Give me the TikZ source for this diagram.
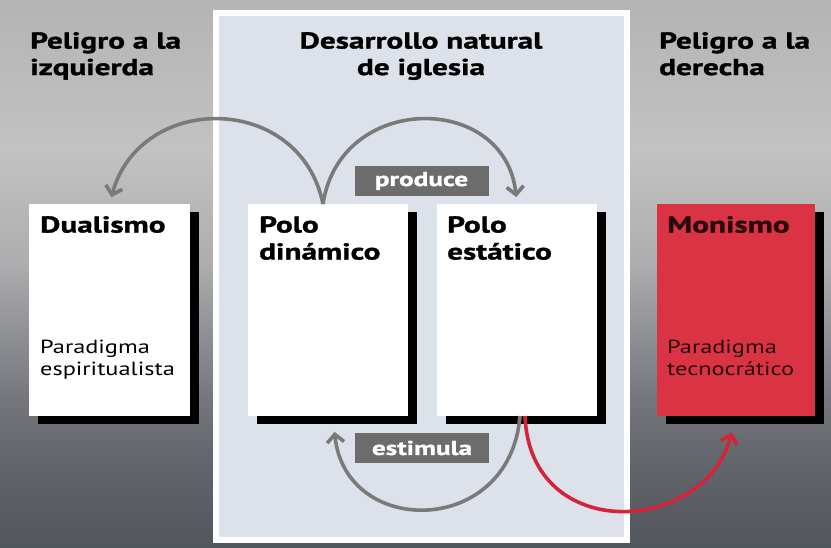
\documentclass[tikz,border=0pt]{standalone}
\usepackage{fontspec}
\setmainfont{PT Sans}[FakeStretch=1.28,BoldFeatures={FakeStretch=1.36,FakeBold=1.3}]
\usepackage{xcolor}
\usepackage{tikz}
\usetikzlibrary{arrows.meta, positioning, shadows}

\definecolor{panelbg}{RGB}{221,226,234}
\definecolor{arrgray}{RGB}{122,122,122}
\definecolor{labgray}{RGB}{108,108,108}
\definecolor{monred}{RGB}{218,52,68}
\definecolor{arrred}{RGB}{212,36,58}
\definecolor{montext}{RGB}{40,10,12}
\definecolor{bga}{RGB}{180,180,180}
\definecolor{bgb}{RGB}{194,194,194}
\definecolor{bgc}{RGB}{174,174,176}
\definecolor{bgd}{RGB}{116,118,124}
\definecolor{bge}{RGB}{98,101,107}
\definecolor{bgf}{RGB}{82,86,93}
\pgfdeclareverticalshading{bgshade}{100bp}{color(0bp)=(bgf);
  color(25bp)=(bgf);
  color(33bp)=(bge);
  color(38.5bp)=(bgd);
  color(51.3bp)=(bgc);
  color(61.3bp)=(bgb);
  color(75bp)=(bga);
  color(100bp)=(bga)}

\begin{document}
\begin{tikzpicture}[x=1pt,y=-1pt]
\tikzset{
  bx/.style={rectangle,fill=white,minimum width=161pt,minimum height=212pt,inner sep=0pt,outer sep=0pt,anchor=north west,
    general shadow={fill=black,shadow xshift=9pt,shadow yshift=-8pt}},
  lb/.style={rectangle,fill=labgray,text=white,minimum width=134pt,minimum height=30pt,inner sep=0pt,font=\fontsize{20}{22}\selectfont\bfseries},
  ar/.style={-{Straight Barb[length=8pt,width=17pt]},line width=3.6pt,draw=arrgray},
  tt/.style={inner sep=0pt,align=left,anchor=north west,font=\fontsize{23}{26.5}\selectfont\bfseries},
  hd/.style={inner sep=0pt,align=left,anchor=north west,font=\fontsize{23}{27}\selectfont\bfseries},
  st/.style={inner sep=0pt,align=left,anchor=north west,font=\fontsize{19}{22}\selectfont}
}
\useasboundingbox (0,0) rectangle (831,548);
\shade[shading=bgshade] (0,0) rectangle (831,548);
\node[rectangle,draw=white,line width=6pt,fill=panelbg,minimum width=411pt,minimum height=527pt,inner sep=0pt,outer sep=0pt,anchor=north west] (panel) at (216,13) {};

% headings
\node[tt] (left) at (30,32) {Peligro a la\\izquierda};
\node[tt,align=center,anchor=north] (mid) at (421,32) {Desarrollo natural\\de iglesia};
\node[tt] (right) at (659,32) {Peligro a la\\derecha};

% the four boxes
\node[bx] (dual) at (29,204) {};
\node[bx,minimum width=160pt] (dyn) at (248,204) {};
\node[bx,minimum width=160pt] (stat) at (437,204) {};
\node[bx,fill=monred,minimum width=158pt] (mon) at (657,204) {};

\node[hd] (dualt) at (40,216) {Dualismo};
\node[st] (duals) at (40,340) {Paradigma\\espiritualista};
\node[hd] (dynt) at (259,216) {Polo\\dinámico};
\node[hd] (statt) at (447,216) {Polo\\estático};
\node[hd,text=montext] (mont) at (667,216) {Monismo};
\node[st,text=montext] (mons) at (667,340) {Paradigma\\tecnocrático};

% labels
\node[lb] (prod) at (421.5,181) {produce};
\node[lb] (estim) at (422,448) {estimula};

% arrows
\draw[ar,shorten >=7pt] ([xshift=-5pt]dyn.north) .. controls (300,92) and (140,92) .. (dual.north);
\draw[ar,shorten >=7pt] ([xshift=-5pt]dyn.north) .. controls (340,92) and (505,92) .. (stat.north);
\draw[ar,shorten >=16pt] ([xshift=3pt]stat.south) .. controls (510,538) and (345,538) .. ([xshift=5pt]dyn.south);
\draw[ar,draw=arrred,shorten >=17pt] ([xshift=8pt]stat.south) .. controls (530,545) and (705,535) .. (mon.south);
\end{tikzpicture}
\end{document}
